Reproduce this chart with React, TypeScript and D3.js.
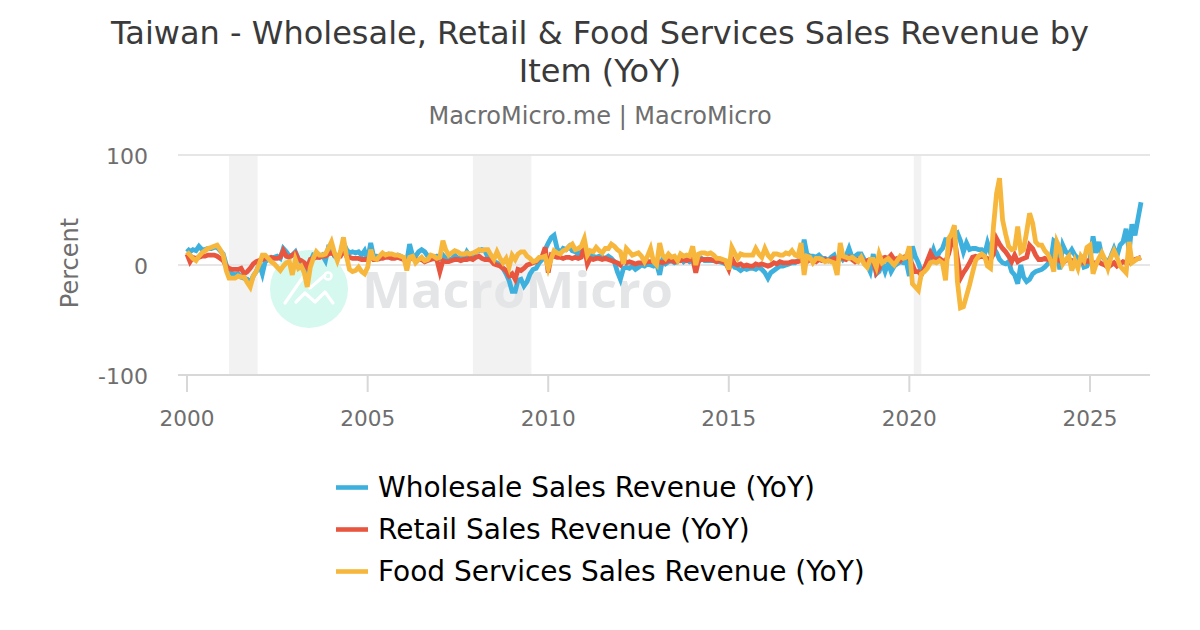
import React from "react";
import * as d3 from "d3";

const titleLines = ["Taiwan - Wholesale, Retail & Food Services Sales Revenue by", "Item (YoY)"];
const subtitle = "MacroMicro.me | MacroMicro";
const yTicks = [100, 0, -100];
const xTickYears = [2000, 2005, 2010, 2015, 2020, 2025];
const seriesNames = ["Wholesale Sales Revenue (YoY)", "Retail Sales Revenue (YoY)", "Food Services Sales Revenue (YoY)"];
const seriesColors = ["#3eb0de", "#e8563f", "#f6b73c"];
const recessions: [string, string][] = [["2001-03-01", "2001-12-15"], ["2007-12-01", "2009-07-15"], ["2020-02-15", "2020-05-01"]];

const wholesale = [
  15,12,14,13,17,14,14,15,15,16,16,13,
  10,0,-6,-8,-9,-8,-11,-12,-13,-17,-10,-6,
  1,-8,3,5,6,7,8,6,15,12,8,9,
  12,5,3,-3,-6,3,9,8,7,9,4,16,
  15,8,6,11,20,14,11,12,11,12,9,13,
  5,20,8,8,6,9,9,10,9,8,9,8,
  6,3,19,8,8,12,14,12,8,7,7,8,
  6,9,6,5,5,9,6,7,6,12,8,9,
  12,13,14,13,7,6,3,2,0,-3,-8,-14,
  -24,-24,-14,-13,-19,-15,-8,-4,-3,2,5,14,
  20,25,27,15,11,15,14,17,13,12,10,12,
  11,6,9,8,7,8,7,6,8,6,3,-6,
  -13,-3,-2,-3,-1,-4,-2,0,-1,1,0,-1,
  1,-9,4,1,3,4,2,3,6,3,5,3,
  4,5,3,6,4,4,4,4,3,3,2,1,
  -1,3,-2,-3,-5,-3,-4,-3,-3,-4,-2,-4,
  -7,-12,-7,-5,-3,-1,-1,0,1,2,2,4,
  5,23,10,8,8,7,9,6,6,4,7,9,
  1,9,5,8,15,7,8,10,10,5,0,-6,
  10,-8,-6,2,-6,2,-6,-1,1,3,2,3,
  -10,17,8,2,-6,-3,1,6,14,6,12,15,
  23,23,24,27,29,22,12,20,14,15,15,14,
  14,10,20,11,16,11,5,2,1,3,-6,-9,
  -17,0,-11,-15,-13,-8,-6,-5,-4,-2,1,4,
  22,20,-4,18,12,10,14,9,6,7,-2,-1,
  5,26,11,21,8,5,2,8,15,8,18,21,
  33,12,37,27,42,57,
];
const retail = [
  10,3,7,6,7,8,8,9,9,9,8,6,
  4,-1,-3,-4,-4,-4,-3,-8,-6,-3,1,3,
  4,5,6,6,7,6,6,7,13,8,7,9,
  11,5,4,2,-2,5,6,7,7,8,8,10,
  11,9,8,8,14,8,7,6,6,6,5,5,
  5,8,5,5,6,6,7,7,6,6,7,6,
  5,2,6,6,4,5,5,3,4,5,6,5,
  -6,4,3,3,4,5,5,4,5,5,6,5,
  7,8,6,5,5,4,1,0,-1,-3,-5,-10,
  -8,-13,-4,-5,-3,0,1,2,3,6,8,16,
  -7,9,8,7,7,6,7,7,6,7,6,7,
  17,1,6,5,6,6,5,6,5,4,3,2,
  0,5,2,3,2,1,2,2,2,3,3,3,
  2,3,2,3,4,4,3,5,4,5,4,5,
  6,-7,4,5,5,5,5,4,3,4,3,2,
  -4,6,1,0,1,-1,0,-1,-1,1,0,1,
  0,-1,0,2,1,3,2,2,2,3,3,3,
  4,4,3,5,4,3,5,4,5,4,5,6,
  2,8,6,5,7,5,3,5,6,2,4,5,
  4,-7,-3,6,7,6,9,5,6,4,7,8,
  6,0,-6,-6,-9,-3,4,11,6,5,6,4,
  3,10,20,24,6,-12,-7,-3,2,7,8,7,
  8,7,6,5,10,24,19,15,12,8,3,9,
  3,5,6,7,18,15,9,5,5,6,5,5,
  3,5,4,2,4,5,4,3,1,3,2,4,
  3,2,2,3,1,0,-2,0,2,-1,1,3,
  2,2,4,5,6,7,
];
const food = [
  12,9,6,4,8,11,13,15,16,17,18,14,
  9,-5,-12,-12,-12,-10,-11,-11,-16,-20,-10,-6,
  1,9,9,6,3,1,-2,-5,-1,2,3,-9,
  5,-3,-1,-7,-20,-2,6,12,9,9,10,15,
  21,11,4,12,25,8,-4,-6,-5,-2,-6,-8,
  -2,14,6,5,8,11,9,10,10,9,9,8,
  7,-5,7,8,2,5,7,4,5,9,8,6,
  7,22,14,9,11,13,12,10,10,11,10,11,
  12,14,13,14,14,9,5,12,6,2,6,-2,
  9,5,10,12,12,8,6,3,4,7,7,8,
  -3,6,13,11,10,13,14,17,19,14,15,17,
  24,9,13,12,16,13,11,15,15,19,17,14,
  12,1,15,12,9,10,11,8,3,8,15,3,
  0,20,9,6,10,7,8,4,10,8,9,8,
  17,0,10,11,11,10,11,9,6,6,5,4,
  -4,16,11,6,10,9,9,9,9,15,10,7,
  15,9,6,10,10,9,9,11,10,13,9,8,
  20,-9,8,7,2,6,6,5,3,4,3,2,
  -9,20,8,7,6,7,5,3,7,1,-2,5,
  5,-2,10,2,4,6,3,0,4,8,6,7,
  17,-17,-20,-23,-8,-6,-3,2,3,2,4,2,
  -14,24,28,36,-15,-39,-38,-28,-18,-7,4,8,
  10,8,-1,-3,35,65,79,41,28,17,14,15,
  35,12,14,30,47,38,21,18,18,13,10,4,
  -6,21,15,1,5,8,-5,4,-3,8,4,16,
  18,-8,0,6,11,5,-3,7,13,7,-1,-4,
  -7,21,2,4,6,6,
];
const seriesValues = [wholesale, retail, food];

const FONT = "'DejaVu Sans', sans-serif";
const monthDate = (i: number) => new Date(Date.UTC(2000, i, 1));

export default function App() {
  const x = d3.scaleUtc().domain([new Date(Date.UTC(2000, 0, 1)), new Date(Date.UTC(2025, 0, 1))]).range([187, 1090]);
  const y = d3.scaleLinear().domain([-100, 100]).range([375, 155]);
  const line = d3.line<number>().x((_, i) => x(monthDate(i))).y((d) => y(d));
  return (
    <svg width={1200} height={630} style={{ position: "absolute", left: 0, top: 0, fontFamily: FONT }}>
      <rect width={1200} height={630} fill="#fff" />
      {recessions.map(([a, b]) => (
        <rect key={a} x={x(new Date(a))} width={x(new Date(b)) - x(new Date(a))} y={155} height={220} fill="#f2f2f2" />
      ))}
      {yTicks.filter((t) => t !== -100).map((t) => (
        <line key={t} x1={178} x2={1150} y1={y(t)} y2={y(t)} stroke="#e6e6e6" strokeWidth={2} />
      ))}
      <line x1={178} x2={1150} y1={375} y2={375} stroke="#d8d8d8" strokeWidth={2} />
      {xTickYears.map((yr) => {
        const px = x(new Date(Date.UTC(yr, 0, 1)));
        return (
          <g key={yr}>
            <line x1={px} x2={px} y1={375} y2={392} stroke="#d8d8d8" strokeWidth={2} />
            <text x={px} y={426} textAnchor="middle" fontSize={21.6} fill="#6e6e6e">{yr}</text>
          </g>
        );
      })}
      {yTicks.map((t) => (
        <text key={t} x={148} y={y(t) + 9} textAnchor="end" fontSize={22} fill="#6e6e6e">{t}</text>
      ))}
      <text transform="translate(78,263) rotate(-90)" textAnchor="middle" fontSize={24} fill="#6e6e6e">Percent</text>

      <g>
        <circle cx={309} cy={289} r={39} fill="#d5f8ef" />
        <path d="M285 303 L303 277 L310 288 L325 275 M296 302 L305 293 L315 302 L325 292 L333 303" fill="none" stroke="#fff" strokeWidth={3.2} strokeLinecap="round" strokeLinejoin="round" />
        <circle cx={328} cy={276} r={3.5} fill="none" stroke="#fff" strokeWidth={2.6} />
        <text x={362} y={308} fontFamily="'Open Sans', sans-serif" fontSize={50} fontWeight={700} fill="#e4e5e6" textLength={311} lengthAdjust="spacingAndGlyphs">MacroMicro</text>
      </g>

      {seriesValues.map((vals, k) => (
        <path key={k} d={line(vals) ?? ""} fill="none" stroke={seriesColors[k]} strokeWidth={4.8} strokeLinejoin="miter" />
      ))}

      {titleLines.map((t, i) => (
        <text key={t} x={600} y={44 + i * 38} textAnchor="middle" fontSize={32} fill="#3a3a3a">{t}</text>
      ))}
      <text x={600} y={124} textAnchor="middle" fontSize={24} fill="#6e6e6e">{subtitle}</text>

      {seriesNames.map((n, i) => (
        <g key={n}>
          <line x1={336} x2={368} y1={487.5 + i * 42} y2={487.5 + i * 42} stroke={seriesColors[i]} strokeWidth={4.6} />
          <text x={378} y={497 + i * 42} fontSize={28} fill="#000">{n}</text>
        </g>
      ))}
    </svg>
  );
}
